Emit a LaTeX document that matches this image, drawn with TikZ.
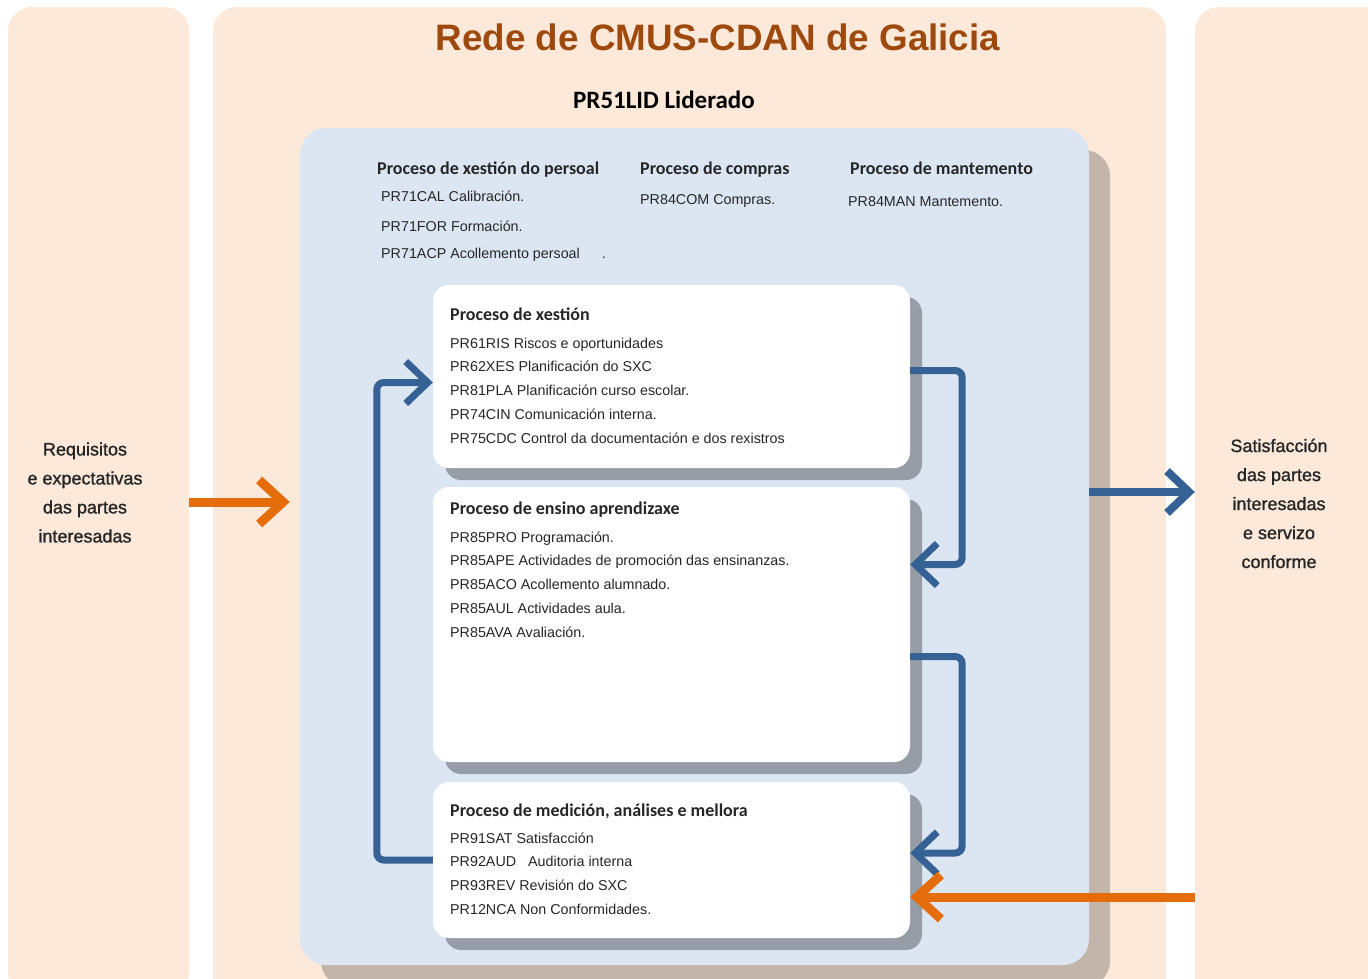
\documentclass[tikz,border=0pt]{standalone}
\usepackage{fontspec}
\setmainfont{Liberation Sans}
\newfontfamily\headfont{Carlito}
\newfontfamily\sidefont[FakeBold=1.2]{Liberation Sans}
\usetikzlibrary{arrows.meta,shadows}

\definecolor{peach}{RGB}{252,233,218}
\definecolor{paleblue}{RGB}{220,230,242}
\definecolor{taupe}{RGB}{195,181,169}
\definecolor{boxgray}{RGB}{150,157,166}
\definecolor{loopblue}{RGB}{53,97,149}
\definecolor{flame}{RGB}{228,108,10}
\definecolor{rust}{RGB}{158,74,14}
\definecolor{ink}{RGB}{38,38,38}

\tikzset{
	panel/.style={rectangle,rounded corners=24,fill=peach,inner sep=0pt},
	corebox/.style={rectangle,rounded corners=26,fill=paleblue,inner sep=0pt,
		drop shadow={shadow xshift=21pt,shadow yshift=-22pt,fill=taupe,opacity=1}},
	procbox/.style={rectangle,rounded corners=16,fill=white,inner sep=0pt,minimum width=477pt,
		drop shadow={shadow xshift=12pt,shadow yshift=-12pt,fill=boxgray,opacity=1}},
	bighead/.style={anchor=base west,inner sep=0pt,text=ink,font=\headfont\bfseries\fontsize{18}{20}\selectfont},
	item/.style={anchor=base west,inner sep=0pt,text=ink,font=\fontsize{14.3}{16}\selectfont},
	sidetext/.style={align=center,text=ink,font=\sidefont\fontsize{18}{29}\selectfont},
	blueflow/.style={draw=loopblue,line width=7pt,rounded corners=7,-{Straight Barb[length=22pt,width=42pt]}},
	orangeflow/.style={draw=flame,line width=9pt,-{Straight Barb[length=24pt,width=44pt]}},
}

\begin{document}
\begin{tikzpicture}[x=1pt,y=-1pt]
	\useasboundingbox (0,0) rectangle (1368,978);
	\clip (0,0) rectangle (1368,978);

	% side and middle panels
	\node[panel,minimum width=181pt,minimum height=990pt] (leftpanel) at (98.5,502) {};
	\node[panel,minimum width=953pt,minimum height=1000pt] (midpanel) at (689.5,507) {};
	\node[panel,minimum width=200pt,minimum height=1000pt] (rightpanel) at (1295,507) {};
	\node[corebox,minimum width=789pt,minimum height=837pt] (core) at (694.5,546.5) {};

	\node[font=\bfseries\fontsize{36.8}{40}\selectfont,text=rust] (title) at (718,37) {Rede de CMUS-CDAN de Galicia};
	\node[font=\headfont\bfseries\fontsize{25}{28}\selectfont,text=black] (lider) at (664,100) {PR51LID Liderado};

	% support processes
	\node[bighead] (persoal) at (377,174) {Proceso de xestión do persoal};
	\node[item] (cal) at (381,201) {PR71CAL Calibración.};
	\node[item] (for) at (381,231) {PR71FOR Formación.};
	\node[item] (acp) at (381,258) {PR71ACP Acollemento persoal\hspace{22pt}.};
	\node[bighead] (compras) at (640,174) {Proceso de compras};
	\node[item] (com) at (640,204) {PR84COM Compras.};
	\node[bighead] (mant) at (850,174) {Proceso de mantemento};
	\node[item] (man) at (848,206) {PR84MAN Mantemento.};

	% main processes
	\node[procbox,minimum height=183pt] (xest) at (671.5,376.5) {};
	\node[procbox,minimum height=275pt] (ensino) at (671.5,624.5) {};
	\node[procbox,minimum height=156pt] (medicion) at (671.5,860) {};

	\node[bighead] (xesth) at (450,320) {Proceso de xestión};
	\foreach \txt [count=\i] in {PR61RIS Riscos e oportunidades,PR62XES Planificación do SXC,
		PR81PLA Planificación curso escolar.,PR74CIN Comunicación interna.,
		PR75CDC Control da documentación e dos rexistros}
		\node[item] (xest\i) at (450,324.25+23.75*\i) {\txt};

	\node[bighead] (ensinoh) at (450,514) {Proceso de ensino aprendizaxe};
	\foreach \txt [count=\i] in {PR85PRO Programación.,PR85APE Actividades de promoción das ensinanzas.,
		PR85ACO Acollemento alumnado.,PR85AUL Actividades aula.,PR85AVA Avaliación.}
		\node[item] (ensino\i) at (450,518.25+23.75*\i) {\txt};

	\node[bighead] (medicionh) at (450,816) {Proceso de medición, análises e mellora};
	\foreach \txt [count=\i] in {PR91SAT Satisfacción,PR92AUD\hspace{12pt}Auditoria interna,
		PR93REV Revisión do SXC,PR12NCA Non Conformidades.}
		\node[item] (medicion\i) at (450,819.3+23.7*\i) {\txt};

	% inputs and outputs
	\node[sidetext] (req) at (85,492.5) {Requisitos\\e expectativas\\das partes\\interesadas};
	\node[sidetext] (satis) at (1279,503.5) {Satisfacción\\das partes\\interesadas\\e servizo\\conforme};

	\draw[orangeflow,shorten >=10pt] (leftpanel.east) -- (leftpanel.east -| core.west);
	\coordinate (satisin) at ([yshift=15pt]rightpanel.west);
	\draw[blueflow,line width=8pt] (satisin -| core.east) -- (satisin);

	\draw[blueflow] (medicion.west) -- ++(-56,0) |- ([yshift=-6pt]xest.west);
	\draw[blueflow] ([yshift=6pt]xest.east) -- ++(52,0) |- ([yshift=60pt]ensino.east);
	\draw[blueflow] ([yshift=-32pt]ensino.east) -- ++(52,0) |- ([yshift=7pt]medicion.east);
	\coordinate (feedin) at ([yshift=-37pt]medicion.east);
	\draw[orangeflow] (rightpanel.west |- feedin) -- (feedin);
\end{tikzpicture}
\end{document}
